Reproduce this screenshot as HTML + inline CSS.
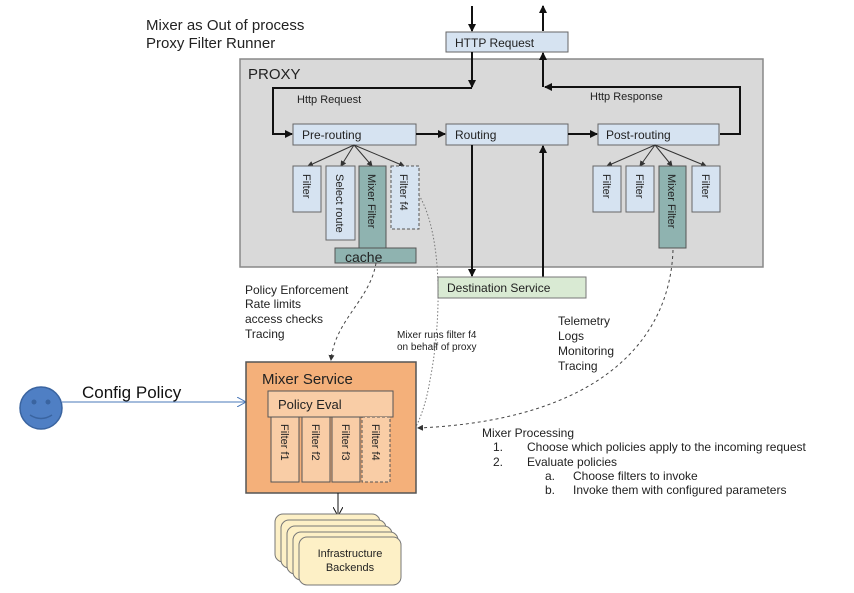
<!DOCTYPE html>
<html><head><meta charset="utf-8"><style>
html,body{margin:0;padding:0;background:#fff;}
svg{display:block;font-family:"Liberation Sans",sans-serif;}
</style></head><body>
<svg width="854" height="593" viewBox="0 0 854 593" xmlns="http://www.w3.org/2000/svg">
<defs>
<marker id="ah" markerWidth="8" markerHeight="8" refX="7" refY="4" orient="auto" markerUnits="userSpaceOnUse"><path d="M0,0 L8,4 L0,8 z" fill="#111"/></marker>
<marker id="sa" markerWidth="6" markerHeight="6" refX="5" refY="3" orient="auto" markerUnits="userSpaceOnUse"><path d="M0,0 L6,3 L0,6 z" fill="#333"/></marker>
<marker id="oa" markerWidth="10" markerHeight="10" refX="9" refY="5" orient="auto" markerUnits="userSpaceOnUse"><path d="M0,0 L9,5 L0,10" fill="none" stroke="#4a78b8" stroke-width="1"/></marker>
<marker id="ba" markerWidth="10" markerHeight="10" refX="9" refY="5" orient="auto" markerUnits="userSpaceOnUse"><path d="M0,0 L9,5 L0,10" fill="none" stroke="#111" stroke-width="1"/></marker>
</defs>
<text x="146" y="30" font-size="15" fill="#222">Mixer as Out of process</text>
<text x="146" y="48" font-size="15" fill="#222">Proxy Filter Runner</text>
<!-- proxy -->
<rect x="240" y="59" width="523" height="208" fill="#d9d9d9" stroke="#888" stroke-width="1.5"/>
<text x="248" y="79" font-size="15" fill="#222">PROXY</text>
<!-- http request top -->
<line x1="472" y1="6" x2="472" y2="31" stroke="#111" stroke-width="2" marker-end="url(#ah)"/>
<line x1="543" y1="31" x2="543" y2="6" stroke="#111" stroke-width="2" marker-end="url(#ah)"/>
<rect x="446" y="32" width="122" height="20" fill="#d6e3f1" stroke="#666"/>
<text x="455" y="47" font-size="12" fill="#222">HTTP Request</text>
<polyline points="472,52 472,87" fill="none" stroke="#111" stroke-width="2" marker-end="url(#ah)"/>
<polyline points="472,88 273,88 273,134 292,134" fill="none" stroke="#111" stroke-width="2" marker-end="url(#ah)"/>
<polyline points="720,134 740,134 740,87 545,87" fill="none" stroke="#111" stroke-width="2" marker-end="url(#ah)"/>
<line x1="543" y1="87" x2="543" y2="53" stroke="#111" stroke-width="2" marker-end="url(#ah)"/>
<text x="297" y="103" font-size="11" fill="#222">Http Request</text>
<text x="590" y="100" font-size="11" fill="#222">Http Response</text>
<!-- routing row -->
<rect x="293" y="124" width="123" height="21" fill="#d6e3f1" stroke="#666"/>
<text x="302" y="139" font-size="12" fill="#222">Pre-routing</text>
<rect x="446" y="124" width="122" height="21" fill="#d6e3f1" stroke="#666"/>
<text x="455" y="139" font-size="12" fill="#222">Routing</text>
<rect x="598" y="124" width="121" height="21" fill="#d6e3f1" stroke="#666"/>
<text x="606" y="139" font-size="12" fill="#222">Post-routing</text>
<line x1="416" y1="134" x2="445" y2="134" stroke="#111" stroke-width="2" marker-end="url(#ah)"/>
<line x1="568" y1="134" x2="597" y2="134" stroke="#111" stroke-width="2" marker-end="url(#ah)"/>
<!-- routing to dest -->
<line x1="472" y1="145" x2="472" y2="276" stroke="#111" stroke-width="2" marker-end="url(#ah)"/>
<line x1="543" y1="277" x2="543" y2="146" stroke="#111" stroke-width="2" marker-end="url(#ah)"/>
<!-- pre filters -->
<g stroke="#333" stroke-width="1">
<line x1="354" y1="145" x2="308" y2="166" marker-end="url(#sa)"/>
<line x1="354" y1="145" x2="341" y2="166" marker-end="url(#sa)"/>
<line x1="354" y1="145" x2="372" y2="166" marker-end="url(#sa)"/>
<line x1="354" y1="145" x2="404" y2="166" marker-end="url(#sa)"/>
<line x1="655" y1="145" x2="607" y2="166" marker-end="url(#sa)"/>
<line x1="655" y1="145" x2="640" y2="166" marker-end="url(#sa)"/>
<line x1="655" y1="145" x2="672" y2="166" marker-end="url(#sa)"/>
<line x1="655" y1="145" x2="706" y2="166" marker-end="url(#sa)"/>
</g>
<g font-size="11" fill="#222">
<rect x="293" y="166" width="28" height="46" fill="#d6e3f1" stroke="#666"/>
<text transform="translate(303,174) rotate(90)">Filter</text>
<rect x="326" y="166" width="29" height="74" fill="#d6e3f1" stroke="#666"/>
<text transform="translate(336,174) rotate(90)">Select route</text>
<rect x="359" y="166" width="27" height="82" fill="#8fb3b0" stroke="#555"/>
<text transform="translate(368,174) rotate(90)">Mixer Filter</text>
<rect x="391" y="166" width="28" height="63" fill="#d6e3f1" stroke="#555" stroke-dasharray="3,2"/>
<text transform="translate(400,174) rotate(90)">Filter f4</text>
<rect x="335" y="248" width="81" height="15" fill="#8fb3b0" stroke="#555"/>
<text x="345" y="262" font-size="14">cache</text>
<rect x="593" y="166" width="28" height="46" fill="#d6e3f1" stroke="#666"/>
<text transform="translate(603,174) rotate(90)">Filter</text>
<rect x="626" y="166" width="28" height="46" fill="#d6e3f1" stroke="#666"/>
<text transform="translate(636,174) rotate(90)">Filter</text>
<rect x="659" y="166" width="27" height="82" fill="#8fb3b0" stroke="#555"/>
<text transform="translate(668,174) rotate(90)">Mixer Filter</text>
<rect x="692" y="166" width="28" height="46" fill="#d6e3f1" stroke="#666"/>
<text transform="translate(702,174) rotate(90)">Filter</text>
</g>
<!-- destination -->
<rect x="438" y="277" width="148" height="21" fill="#d9ead3" stroke="#777"/>
<text x="447" y="292" font-size="12" fill="#222">Destination Service</text>
<!-- dashed curves -->
<g fill="none" stroke="#444" stroke-width="1" stroke-dasharray="3,3">
<path d="M376,263 C370,300 335,320 331,360" marker-end="url(#sa)"/>
<path d="M419,195 C445,240 440,330 430,380 C425,410 415,440 389,460" stroke="#777" stroke-dasharray="1.5,2"/>
<path d="M673,250 C670,340 600,420 418,428" marker-end="url(#sa)"/>
</g>
<g font-size="12" fill="#222">
<text x="245" y="294">Policy Enforcement</text>
<text x="245" y="308">Rate limits</text>
<text x="245" y="323">access checks</text>
<text x="245" y="338">Tracing</text>
<text x="558" y="325">Telemetry</text>
<text x="558" y="340">Logs</text>
<text x="558" y="355">Monitoring</text>
<text x="558" y="370">Tracing</text>
</g>
<text x="397" y="338" font-size="10" fill="#222">Mixer runs filter f4</text>
<text x="397" y="350" font-size="10" fill="#222">on behalf of proxy</text>
<!-- smiley -->
<circle cx="41" cy="408" r="21" fill="#4f7fc4" stroke="#3a64a0" stroke-width="1.5"/>
<circle cx="34" cy="402" r="2.5" fill="#3a64a0"/>
<circle cx="48" cy="402" r="2.5" fill="#3a64a0"/>
<path d="M30,415 Q41,422 52,415" fill="none" stroke="#3a64a0" stroke-width="1.5"/>
<line x1="62" y1="402" x2="246" y2="402" stroke="#4a78b8" stroke-width="1" marker-end="url(#oa)"/>
<text x="82" y="398" font-size="17" fill="#111">Config Policy</text>
<!-- mixer service -->
<rect x="246" y="362" width="170" height="131" fill="#f4b07a" stroke="#555" stroke-width="1.5"/>
<text x="262" y="384" font-size="15" fill="#222">Mixer Service</text>
<rect x="268" y="391" width="125" height="26" fill="#f9cda6" stroke="#555"/>
<text x="278" y="409" font-size="13" fill="#222">Policy Eval</text>
<g font-size="11" fill="#222">
<rect x="271" y="417" width="28" height="65" fill="#f9cda6" stroke="#555"/>
<text transform="translate(281,424) rotate(90)">Filter f1</text>
<rect x="302" y="417" width="28" height="65" fill="#f9cda6" stroke="#555"/>
<text transform="translate(312,424) rotate(90)">Filter f2</text>
<rect x="332" y="417" width="28" height="65" fill="#f9cda6" stroke="#555"/>
<text transform="translate(342,424) rotate(90)">Filter f3</text>
<rect x="362" y="417" width="28" height="65" fill="#f9cda6" stroke="#555" stroke-dasharray="3,2"/>
<text transform="translate(372,424) rotate(90)">Filter f4</text>
</g>
<line x1="338" y1="493" x2="338" y2="516" stroke="#111" stroke-width="1" marker-end="url(#ba)"/>
<!-- backends stack -->
<g fill="#fdf0c6" stroke="#777">
<rect x="275" y="514" width="105" height="48" rx="8"/>
<rect x="281" y="520" width="105" height="48" rx="8"/>
<rect x="287" y="526" width="105" height="48" rx="8"/>
<rect x="293" y="532" width="105" height="48" rx="8"/>
<rect x="299" y="537" width="102" height="48" rx="8"/>
</g>
<text x="350" y="557" font-size="11" fill="#222" text-anchor="middle">Infrastructure</text>
<text x="350" y="571" font-size="11" fill="#222" text-anchor="middle">Backends</text>
<!-- mixer processing -->
<g font-size="12" fill="#222">
<text x="482" y="437">Mixer Processing</text>
<text x="493" y="451">1.</text><text x="527" y="451">Choose which policies apply to the incoming request</text>
<text x="493" y="466">2.</text><text x="527" y="466">Evaluate policies</text>
<text x="545" y="480">a.</text><text x="573" y="480">Choose filters to invoke</text>
<text x="545" y="494">b.</text><text x="573" y="494">Invoke them with configured parameters</text>
</g>
</svg>
</body></html>
